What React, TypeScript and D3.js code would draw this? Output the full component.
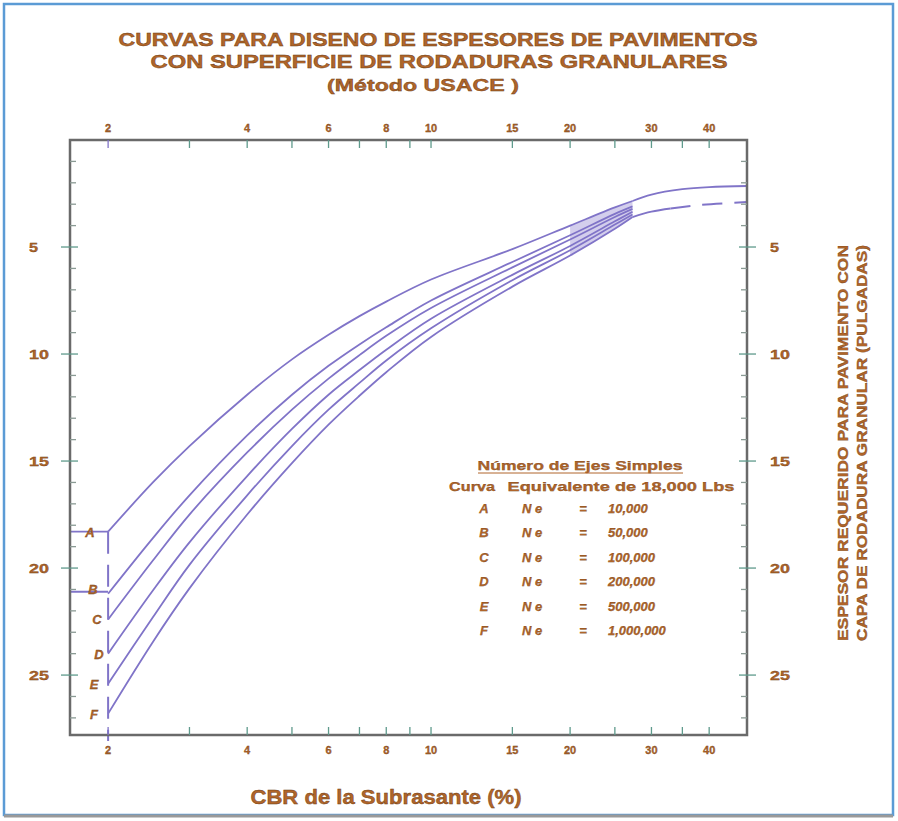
import React from "react";
import * as d3 from "d3";

const cbr = [2, 2.5, 3, 4, 5, 6, 7, 8, 10, 15, 20, 25, 27.3];
const curveA = [18.3, 16.0, 14.3, 11.9, 10.25, 9.1, 8.23, 7.55, 6.52, 5.1, 4.0, 3.15, 2.85];
const curveB = [21.2, 18.6, 16.6, 13.8, 11.9, 10.55, 9.55, 8.75, 7.5, 5.7, 4.45, 3.45, 3.1];
const curveC = [22.4, 19.65, 17.5, 14.6, 12.6, 11.15, 10.05, 9.15, 7.85, 5.95, 4.65, 3.6, 3.22];
const curveD = [24.0, 21.05, 18.8, 15.7, 13.5, 11.9, 10.75, 9.8, 8.35, 6.3, 4.95, 3.8, 3.35];
const curveE = [25.4, 22.3, 19.85, 16.6, 14.3, 12.6, 11.35, 10.3, 8.8, 6.55, 5.15, 3.95, 3.48];
const curveF = [26.8, 23.45, 20.95, 17.5, 15.1, 13.3, 11.95, 10.85, 9.2, 6.85, 5.4, 4.15, 3.6];
const curveLetters = ["A", "B", "C", "D", "E", "F"];

const extCbrA = [27.3, 30, 35, 40, 48.3];
const extA = [2.85, 2.55, 2.3, 2.2, 2.15];
const extCbrF = [27.3, 30, 33, 38, 48.3];
const extF = [3.6, 3.35, 3.2, 3.04, 2.9];

const neValues = ["10,000", "50,000", "100,000", "200,000", "500,000", "1,000,000"];

const xTicks = [2, 3, 4, 5, 6, 7, 8, 9, 10, 15, 20, 25, 30, 35, 40];
const xTickLabels = [2, 4, 6, 8, 10, 15, 20, 30, 40];
const yMinorTicks = d3.range(1, 28);
const yLabels = [5, 10, 15, 20, 25];

const TXT = "#b0652a";
const CURVE = "#8074c8";
const FRAME = "#6a6a6a";
const MAJ = "#5f9a8c";

export default function App() {
  const L = 70, R = 747, T = 140, B = 735;
  const x = d3.scaleLog().domain([1.654, 48.3]).range([L, R]);
  const y = d3.scaleLinear().domain([0, 27.8]).range([T, B]);
  const curves = [curveA, curveB, curveC, curveD, curveE, curveF];
  const line = d3
    .line<[number, number]>()
    .x((d) => x(d[0]))
    .y((d) => y(d[1]))
    .curve(d3.curveCatmullRom.alpha(0.5));
  const band = d3
    .area<number>()
    .x((i) => x(cbr[i]))
    .y0((i) => y(curveA[i]))
    .y1((i) => y(curveF[i]))
    .curve(d3.curveCatmullRom.alpha(0.5));
  const bandIdx = [10, 11, 12];
  const fontBold = "'Liberation Sans', Arial, sans-serif";

  const fSolid = extCbrF.slice(0, 3).map((c, i) => [c, extF[i]] as [number, number]);
  const fDashed = extCbrF.slice(2).map((c, i) => [c, extF[i + 2]] as [number, number]);

  const legendRowsY = [508, 532, 557, 581, 606, 630];

  return (
    <svg width={898} height={821} style={{ position: "absolute", left: 0, top: 0, background: "#fff" }} fontFamily={fontBold}>
      <rect x={4} y={4} width={889} height={811} fill="#fff" stroke="#5b9bd5" strokeWidth={2.5} />
      <line x1={4} x2={893} y1={816} y2={816} stroke="#9a9a9a" strokeWidth={3} />

      {/* Title */}
      <g fill={TXT} fontWeight="bold" textAnchor="middle" stroke="#6b3a12" strokeWidth={0.4}>
        <text x={438} y={46} fontSize={18} textLength={639} lengthAdjust="spacingAndGlyphs">
          CURVAS PARA DISENO DE ESPESORES DE PAVIMENTOS
        </text>
        <text x={439} y={68} fontSize={18} textLength={577} lengthAdjust="spacingAndGlyphs">
          CON SUPERFICIE DE RODADURAS GRANULARES
        </text>
        <text x={423} y={91} fontSize={17} textLength={192} lengthAdjust="spacingAndGlyphs">
          (Método USACE )
        </text>
      </g>

      {/* band at merging end */}
      <path d={band(bandIdx) || ""} fill={CURVE} opacity={0.35} />

      {/* curves */}
      {curves.map((c, k) => (
        <path
          key={k}
          d={line(cbr.map((v, i) => [v, c[i]] as [number, number])) || ""}
          fill="none"
          stroke={CURVE}
          strokeWidth={1.8}
        />
      ))}
      <path d={line(extCbrA.map((v, i) => [v, extA[i]] as [number, number])) || ""} fill="none" stroke={CURVE} strokeWidth={1.8} />
      <path d={line(fSolid) || ""} fill="none" stroke={CURVE} strokeWidth={1.8} />
      <path d={line(fDashed) || ""} fill="none" stroke={CURVE} strokeWidth={2} strokeDasharray="20,12" />

      {/* left annotations */}
      <line x1={L} x2={x(2)} y1={y(curveA[0])} y2={y(curveA[0])} stroke={CURVE} strokeWidth={1.8} />
      <line x1={L} x2={x(2)} y1={y(curveB[0]) - 2} y2={y(curveB[0]) - 2} stroke={CURVE} strokeWidth={1.8} />
      <line x1={x(2)} x2={x(2)} y1={y(curveA[0])} y2={B + 6} stroke={CURVE} strokeWidth={2} strokeDasharray="22,11" />
      <g fill={TXT} fontWeight="bold" fontStyle="italic" fontSize={13} textAnchor="middle" stroke="#6b3a12" strokeWidth={0.3}>
        {curveLetters.map((l, k) => (
          <text key={l} x={[90, 93, 97, 99, 94, 94][k]} y={y(curves[k][0]) + 5 - (k === 1 ? 5 : 0)}>
            {l}
          </text>
        ))}
      </g>

      {/* frame */}
      <rect x={L} y={T} width={R - L} height={B - T} fill="none" stroke={FRAME} strokeWidth={2.5} />

      {/* x ticks */}
      {xTicks.map((t) => (
        <g key={t} stroke={t === 2 ? CURVE : MAJ} strokeWidth={1.3}>
          <line x1={x(t)} x2={x(t)} y1={T} y2={T + 8} />
          <line x1={x(t)} x2={x(t)} y1={B} y2={B - 8} />
        </g>
      ))}
      <g fill={TXT} fontWeight="bold" fontSize={11} textAnchor="middle" stroke="#6b3a12" strokeWidth={0.3}>
        {xTickLabels.map((t) => (
          <React.Fragment key={t}>
            <text x={x(t)} y={132}>{t}</text>
            <text x={x(t)} y={754}>{t}</text>
          </React.Fragment>
        ))}
      </g>

      {/* y ticks */}
      {yMinorTicks.map((t) => {
        const major = t % 5 === 0;
        return (
          <g key={t} stroke={major ? MAJ : "#8a9a94"} strokeWidth={1.3}>
            <line x1={major ? L - 9 : L} x2={L + (major ? 8 : 6)} y1={y(t)} y2={y(t)} />
            <line x1={major ? R + 9 : R} x2={R - (major ? 8 : 6)} y1={y(t)} y2={y(t)} />
          </g>
        );
      })}
      <g fill={TXT} fontWeight="bold" fontSize={13} stroke="#6b3a12" strokeWidth={0.3}>
        {yLabels.map((t) => (
          <React.Fragment key={t}>
            <text x={29} y={y(t) + 5} textLength={t < 10 ? 9 : 20} lengthAdjust="spacingAndGlyphs">{t}</text>
            <text x={770} y={y(t) + 5} textLength={t < 10 ? 9 : 20} lengthAdjust="spacingAndGlyphs">{t}</text>
          </React.Fragment>
        ))}
      </g>

      {/* bottom axis title */}
      <text x={386} y={804} fontSize={20} fontWeight="bold" fill={TXT} stroke="#6b3a12" strokeWidth={0.4} textAnchor="middle" textLength={271} lengthAdjust="spacingAndGlyphs">
        CBR de la Subrasante (%)
      </text>

      {/* right axis title */}
      <g fill={TXT} fontWeight="bold" fontSize={14} stroke="#6b3a12" strokeWidth={0.3} textAnchor="middle">
        <text transform="translate(848,443) rotate(-90)" textLength={396} lengthAdjust="spacingAndGlyphs">
          ESPESOR REQUERIDO PARA PAVIMENTO CON
        </text>
        <text transform="translate(867,443) rotate(-90)" textLength={396} lengthAdjust="spacingAndGlyphs">
          CAPA DE RODADURA GRANULAR (PULGADAS)
        </text>
      </g>

      {/* legend */}
      <g fill={TXT} fontWeight="bold" fontSize={13} stroke="#6b3a12" strokeWidth={0.25}>
        <text x={580} y={470} textAnchor="middle" textLength={205} lengthAdjust="spacingAndGlyphs">
          Número de Ejes Simples
        </text>
        <line x1={478} x2={683} y1={473} y2={473} stroke={TXT} strokeWidth={1} />
        <text x={472} y={491} textAnchor="middle" textLength={46} lengthAdjust="spacingAndGlyphs">Curva</text>
        <text x={621} y={491} textAnchor="middle" textLength={227} lengthAdjust="spacingAndGlyphs">
          Equivalente de 18,000 Lbs
        </text>
        {curveLetters.map((l, k) => (
          <g key={l} fontStyle="italic">
            <text x={484} y={legendRowsY[k] + 5} textAnchor="middle">{l}</text>
            <text x={522} y={legendRowsY[k] + 5}>N e</text>
            <text x={583} y={legendRowsY[k] + 5} textAnchor="middle">=</text>
            <text x={608} y={legendRowsY[k] + 5}>{neValues[k]}</text>
          </g>
        ))}
      </g>
    </svg>
  );
}
